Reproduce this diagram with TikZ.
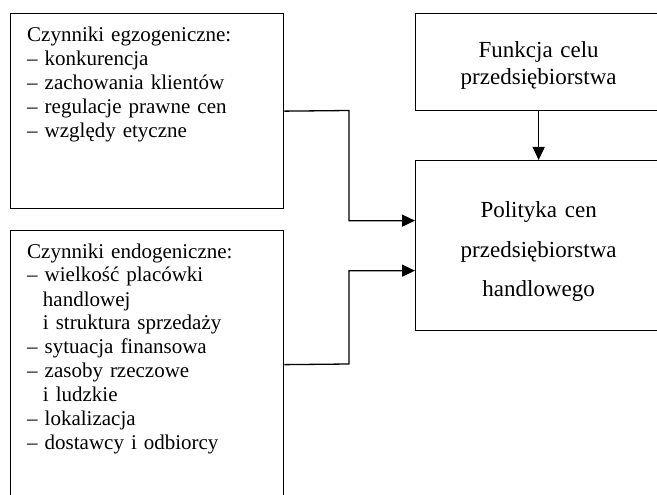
\documentclass[tikz,border=0pt]{standalone}
\usepackage{fontspec}
\setmainfont{Liberation Serif}
\usetikzlibrary{arrows.meta,calc}
\tikzset{
  box/.style={draw=black, line width=1.3pt, rectangle, inner sep=0pt},
  lefttxt/.style={anchor=base west, inner sep=0pt, text width=255pt, align=left, font=\fontsize{21}{24}\selectfont},
  righttxt/.style={anchor=base, inner sep=0pt, text width=240pt, align=center},
  conn/.style={draw=black, line width=1.3pt, -{Triangle[length=13pt,width=12pt]}}
}
\newcommand{\ind}{\hspace*{0.75em}}
\begin{document}
\begin{tikzpicture}[x=1pt,y=-1pt]
\useasboundingbox (0,0) rectangle (657,495);
\clip (0,0) rectangle (657,495);
% boxes
\node[box, anchor=north west, minimum width=273pt, minimum height=195pt] (egz) at (10,13) {};
\node[box, anchor=north west, minimum width=273pt, minimum height=268pt] (endo) at (10,230) {};
\node[box, anchor=north west, minimum width=246pt, minimum height=97pt] (fun) at (415,13) {};
\node[box, anchor=north west, minimum width=246pt, minimum height=170pt] (pol) at (415,160) {};
% texts
\node[lefttxt] (egztxt) at ($(egz.north west)+(17,29)$) {Czynniki egzogeniczne:\\
– konkurencja\\
– zachowania klientów\\
– regulacje prawne cen\\
– względy etyczne};
\node[lefttxt] (endotxt) at ($(endo.north west)+(17,28)$) {Czynniki endogeniczne:\\
– wielkość placówki\\
\ind handlowej\\
\ind i struktura sprzedaży\\
– sytuacja finansowa\\
– zasoby rzeczowe\\
\ind i ludzkie\\
– lokalizacja\\
– dostawcy i odbiorcy};
\node[righttxt, font=\fontsize{23}{27}\selectfont] (funtxt) at ($(fun.north)+(0,45)$) {Funkcja celu\\przedsiębiorstwa};
\node[righttxt, font=\fontsize{23}{40}\selectfont] (poltxt) at ($(pol.north)+(0,57)$) {Polityka cen\\przedsiębiorstwa\\handlowego};
% connectors
\coordinate (j1) at (349,110.5);
\coordinate (j2) at (349,364);
\draw[conn] (egz.east) -- (j1) |- ($(pol.west)+(0,-25)$);
\draw[conn] (endo.east) -- (j2) |- ($(pol.west)+(0,25)$);
\draw[conn] (fun.south) -- (pol.north);
\end{tikzpicture}
\end{document}
